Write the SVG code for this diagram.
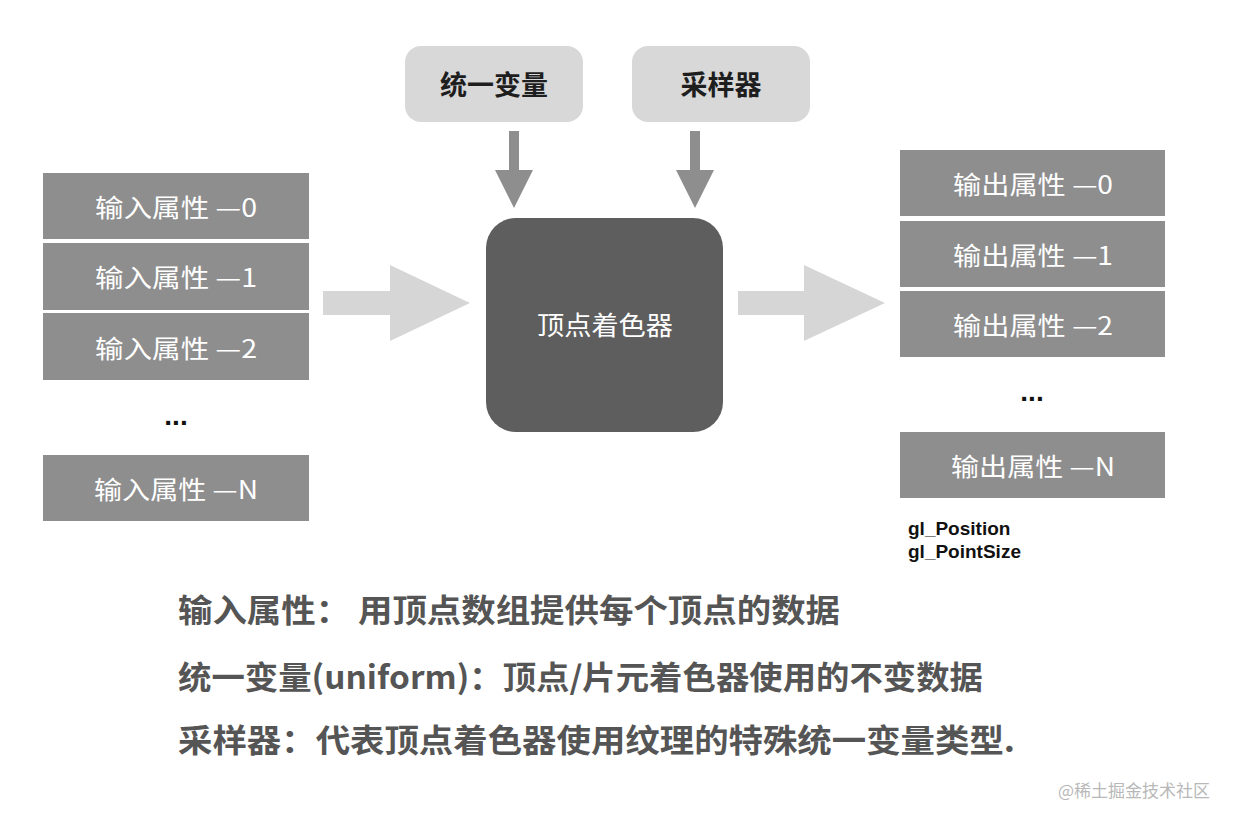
<svg xmlns="http://www.w3.org/2000/svg" width="1240" height="823" viewBox="0 0 1240 823">
<style>
  .attr { fill: #8e8e8e; }
  .attr-t { fill: #ffffff; font-family: "Noto Sans CJK SC", "Noto Sans", sans-serif; font-size: 25px; text-anchor: middle; }
  .top { fill: #d8d8d8; }
  .top-t { fill: #1e1e1e; font-family: "Noto Sans CJK SC", sans-serif; font-size: 27px; font-weight: bold; text-anchor: middle; }
  .dots { fill: #111; font-family: "Liberation Sans", sans-serif; font-size: 28px; font-weight: bold; text-anchor: middle; }
  .big-arrow { fill: #d6d6d6; }
  .down-arrow { fill: #8e8e8e; }
  .legend { fill: #555555; font-family: "Noto Sans CJK SC", sans-serif; font-size: 32px; font-weight: bold; }
  .gl { fill: #111; font-family: "Liberation Sans", "Noto Sans", sans-serif; font-size: 19px; font-weight: bold; }
</style>
<rect width="1240" height="823" fill="#ffffff"/>

<g id="connectors">
  <polygon class="big-arrow" points="323,291 390,291 390,265 470,303 390,341 390,315 323,315"/>
  <polygon class="big-arrow" points="738,291 804,291 804,265 885,303 804,341 804,315 738,315"/>
  <polygon class="down-arrow" points="509,131 519,131 519,170 533,170 514,208 495,170 509,170"/>
  <polygon class="down-arrow" points="690,131 700,131 700,170 714,170 695,208 676,170 690,170"/>
</g>

<g id="input-0"><rect class="attr" x="43" y="173" width="266" height="66"/><text class="attr-t" x="176" y="217" textLength="162" lengthAdjust="spacingAndGlyphs">输入属性 —0</text></g>
<g id="input-1"><rect class="attr" x="43" y="243" width="266" height="67"/><text class="attr-t" x="176" y="287" textLength="162" lengthAdjust="spacingAndGlyphs">输入属性 —1</text></g>
<g id="input-2"><rect class="attr" x="43" y="313" width="266" height="67"/><text class="attr-t" x="176" y="358" textLength="162" lengthAdjust="spacingAndGlyphs">输入属性 —2</text></g>
<g id="input-dots"><text class="dots" x="176" y="425">...</text></g>
<g id="input-n"><rect class="attr" x="43" y="455" width="266" height="66"/><text class="attr-t" x="176" y="499" textLength="164" lengthAdjust="spacingAndGlyphs">输入属性 —N</text></g>

<g id="uniform"><rect class="top" x="405" y="46" width="178" height="76" rx="16"/><text class="top-t" x="494" y="95">统一变量</text></g>
<g id="sampler"><rect class="top" x="632" y="46" width="178" height="76" rx="16"/><text class="top-t" x="721" y="95">采样器</text></g>

<g id="vertex-shader"><rect x="486" y="218" width="237" height="214" rx="30" fill="#5e5e5e"/><text x="605" y="335" fill="#ffffff" font-family="Noto Sans CJK SC, sans-serif" font-size="26" text-anchor="middle" textLength="136" lengthAdjust="spacingAndGlyphs">顶点着色器</text></g>

<g id="output-0"><rect class="attr" x="900" y="150" width="265" height="66"/><text class="attr-t" x="1033" y="194" textLength="160" lengthAdjust="spacingAndGlyphs">输出属性 —0</text></g>
<g id="output-1"><rect class="attr" x="900" y="221" width="265" height="66"/><text class="attr-t" x="1033" y="265" textLength="160" lengthAdjust="spacingAndGlyphs">输出属性 —1</text></g>
<g id="output-2"><rect class="attr" x="900" y="291" width="265" height="66"/><text class="attr-t" x="1033" y="335" textLength="160" lengthAdjust="spacingAndGlyphs">输出属性 —2</text></g>
<g id="output-dots"><text class="dots" x="1032" y="401">...</text></g>
<g id="output-n"><rect class="attr" x="900" y="432" width="265" height="66"/><text class="attr-t" x="1033" y="476" textLength="164" lengthAdjust="spacingAndGlyphs">输出属性 —N</text></g>

<g id="gl-vars">
  <text class="gl" x="908" y="535">gl_Position</text>
  <text class="gl" x="908" y="558">gl_PointSize</text>
</g>

<g id="legend">
  <text class="legend" x="178" y="622" textLength="662" lengthAdjust="spacingAndGlyphs">输入属性： 用顶点数组提供每个顶点的数据</text>
  <text class="legend" x="178" y="689" textLength="805" lengthAdjust="spacingAndGlyphs">统一变量(uniform)：顶点/片元着色器使用的不变数据</text>
  <text class="legend" x="178" y="752" textLength="837" lengthAdjust="spacingAndGlyphs">采样器：代表顶点着色器使用纹理的特殊统一变量类型.</text>
</g>

<g id="watermark"><text x="1058" y="797" fill="#b8b8b8" font-family="Noto Sans CJK SC, sans-serif" font-size="17">@稀土掘金技术社区</text></g>
</svg>
